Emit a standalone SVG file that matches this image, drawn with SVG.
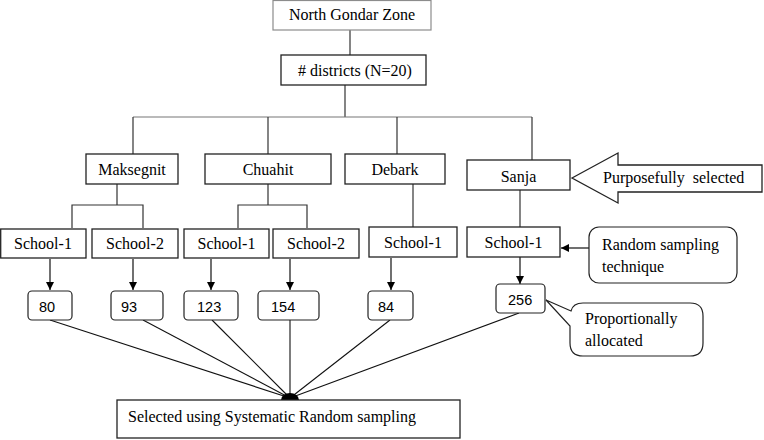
<svg xmlns="http://www.w3.org/2000/svg" width="764" height="440" viewBox="0 0 764 440">
<style>
.n{font-size:14.5px;fill:#000}
.box{fill:#fff;stroke:#222;stroke-width:1.3}
.gbox{fill:#fff;stroke:#8c8c8c;stroke-width:1.2}
.rbox{fill:#fff;stroke:#222;stroke-width:1.2}
.c{fill:none;stroke:#333;stroke-width:1.2}
.cg{fill:none;stroke:#777;stroke-width:1.2}
.a{fill:none;stroke:#111;stroke-width:1.2;marker-end:url(#ah)}
</style>
<defs>
<marker id="ah" viewBox="0 0 10 10" refX="10" refY="5" markerWidth="8" markerHeight="8" markerUnits="userSpaceOnUse" orient="auto">
<path d="M0,0 L10,5 L0,10 Z" fill="#000"/>
</marker>
</defs>
<rect width="764" height="440" fill="#fff"/>
<g id="connectors">
<line class="c" x1="350" y1="30" x2="350" y2="55"/>
<line class="c" x1="345" y1="85" x2="345" y2="117"/>
<line class="cg" x1="133" y1="117" x2="532" y2="117"/>
<line class="c" x1="133" y1="117" x2="133" y2="154"/>
<line class="c" x1="268" y1="117" x2="268" y2="154"/>
<line class="c" x1="397" y1="117" x2="397" y2="154"/>
<line class="c" x1="532" y1="117" x2="532" y2="160"/>
<path class="c" d="M117,184 V205 M72,228 V205 H143 V228"/>
<path class="c" d="M268,184 V205 M238,228 V205 H307 V228"/>
<line class="c" x1="413" y1="184" x2="413" y2="227"/>
<line class="c" x1="520" y1="190" x2="520" y2="227"/>
<line class="a" x1="50" y1="259" x2="50" y2="290"/>
<line class="a" x1="133" y1="259" x2="133" y2="290"/>
<line class="a" x1="211" y1="259" x2="211" y2="290"/>
<line class="a" x1="290" y1="259" x2="290" y2="290"/>
<line class="a" x1="391" y1="258" x2="391" y2="290"/>
<line class="a" x1="520" y1="257" x2="520" y2="284"/>
<line class="a" x1="589" y1="248" x2="561" y2="248"/>
<g stroke="#111" stroke-width="1.1">
<line x1="50" y1="320" x2="290" y2="398"/>
<line x1="143" y1="320" x2="290" y2="398"/>
<line x1="212" y1="320" x2="290" y2="398"/>
<line x1="290" y1="320" x2="290" y2="398"/>
<line x1="390" y1="320" x2="290" y2="398"/>
<line x1="519" y1="313" x2="290" y2="398"/>
</g>
<path d="M281,400 A9,7 0 0 1 299,400 Z" fill="#000"/>
</g>
<g id="nodes" font-family="Liberation Serif, Times New Roman, serif" font-size="16" fill="#000">
<g id="north-gondar">
<rect class="gbox" x="273" y="0.5" width="158" height="29.5"/>
<text x="352" y="20" text-anchor="middle">North Gondar Zone</text>
</g>
<g id="districts">
<rect class="box" x="281" y="55" width="145" height="30"/>
<text x="355" y="76" text-anchor="middle"># districts (N=20)</text>
</g>
<g id="maksegnit">
<rect class="box" x="86" y="154" width="92" height="30"/>
<text x="132" y="175" text-anchor="middle">Maksegnit</text>
</g>
<g id="chuahit">
<rect class="box" x="205" y="154" width="126" height="30"/>
<text x="268" y="175" text-anchor="middle">Chuahit</text>
</g>
<g id="debark">
<rect class="box" x="345" y="154" width="100" height="30"/>
<text x="395" y="175" text-anchor="middle">Debark</text>
</g>
<g id="sanja">
<rect class="box" x="467" y="160" width="103" height="30"/>
<text x="518.5" y="182" text-anchor="middle">Sanja</text>
</g>
<g id="purposefully">
<polygon class="box" points="572,178 618,153 618,165 762,165 762,192 618,192 618,203"/>
<text x="603" y="183" xml:space="preserve">Purposefully  selected</text>
</g>
<g id="m-school1">
<rect class="box" x="0.7" y="229" width="85.3" height="29"/>
<text x="43" y="249" text-anchor="middle">School-1</text>
</g>
<g id="m-school2">
<rect class="box" x="92" y="229" width="86" height="29"/>
<text x="135" y="249" text-anchor="middle">School-2</text>
</g>
<g id="c-school1">
<rect class="box" x="184" y="229" width="85" height="29"/>
<text x="226.5" y="249" text-anchor="middle">School-1</text>
</g>
<g id="c-school2">
<rect class="box" x="273" y="229" width="86" height="29"/>
<text x="316" y="249" text-anchor="middle">School-2</text>
</g>
<g id="d-school1">
<rect class="box" x="369" y="227" width="88" height="30"/>
<text x="413" y="248" text-anchor="middle">School-1</text>
</g>
<g id="s-school1">
<rect class="box" x="467" y="227" width="93" height="30"/>
<text x="513.5" y="248" text-anchor="middle">School-1</text>
</g>
<g id="random-sampling">
<rect class="rbox" x="589" y="227" width="148" height="56" rx="10" ry="10"/>
<text x="602" y="250">Random sampling</text>
<text x="602" y="272">technique</text>
</g>
<g id="n80">
<rect class="rbox" x="28" y="291" width="44" height="29" rx="4"/>
<text class="n" font-family="Liberation Sans, Arial, sans-serif" x="39" y="312">80</text>
</g>
<g id="n93">
<rect class="rbox" x="111" y="291" width="52" height="29" rx="4"/>
<text class="n" font-family="Liberation Sans, Arial, sans-serif" x="121" y="312">93</text>
</g>
<g id="n123">
<rect class="rbox" x="184" y="291" width="54" height="29" rx="4"/>
<text class="n" font-family="Liberation Sans, Arial, sans-serif" x="197" y="312">123</text>
</g>
<g id="n154">
<rect class="rbox" x="258" y="291" width="61" height="29" rx="4"/>
<text class="n" font-family="Liberation Sans, Arial, sans-serif" x="271" y="312">154</text>
</g>
<g id="n84">
<rect class="rbox" x="368" y="291" width="45" height="29" rx="4"/>
<text class="n" font-family="Liberation Sans, Arial, sans-serif" x="378" y="312">84</text>
</g>
<g id="n256">
<rect class="rbox" x="496" y="284" width="49" height="29" rx="4"/>
<text class="n" font-family="Liberation Sans, Arial, sans-serif" x="508" y="305">256</text>
</g>
<g id="proportionally">
<path class="rbox" d="M583,303 H690 Q703,303 703,316 V343 Q703,356 690,356 H583 Q570,356 570,343 V326 L546,300 L571,311 Q573,303 583,303 Z"/>
<text x="585" y="324">Proportionally</text>
<text x="585" y="346">allocated</text>
</g>
<g id="systematic">
<rect class="box" x="117" y="400" width="343" height="38"/>
<text x="128" y="422">Selected using Systematic Random sampling</text>
</g>
</g>
</svg>
